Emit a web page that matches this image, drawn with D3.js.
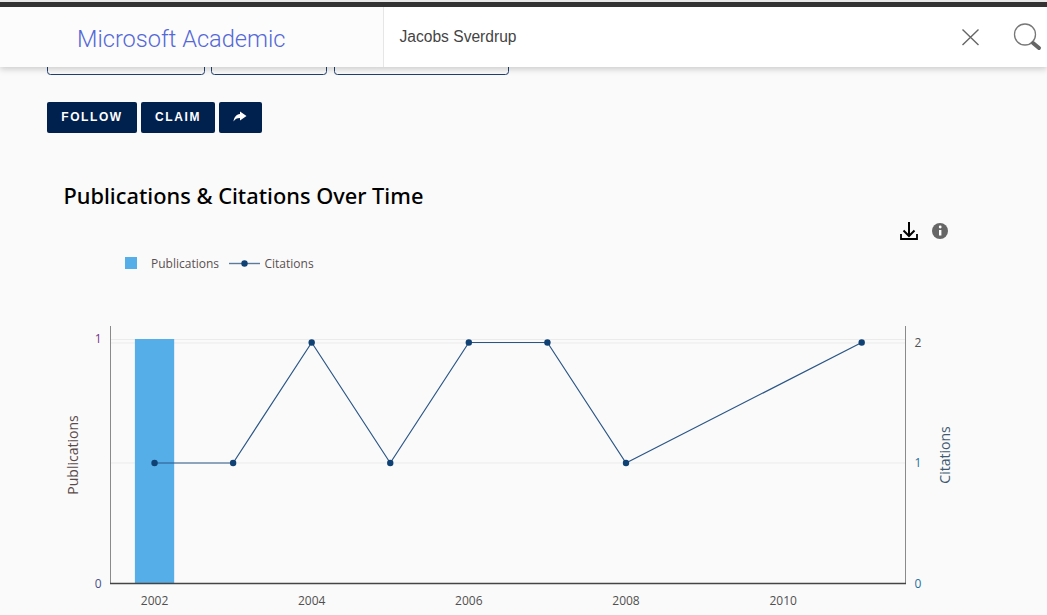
<!DOCTYPE html>
<html>
<head>
<meta charset="utf-8">
<script src="https://cdn.jsdelivr.net/npm/d3@7/dist/d3.min.js"></script>
<style>
html,body{margin:0;padding:0;background:#fafafa;overflow:hidden}
svg{display:block}
text{font-family:"Open Sans",sans-serif}
</style>
</head>
<body>
<div id="chart"></div>
<script>
const years = [2002,2003,2004,2005,2006,2007,2008,2009,2010,2011];
const xTickLabels = [2002,2004,2006,2008,2010];
const pubYears = [2002];
const pubValues = [1];
const citeYears = [2002,2003,2004,2005,2006,2007,2008,2011];
const citeValues = [1,1,2,1,2,2,1,2];
const leftTicks = [0,1];
const rightTicks = [0,1,2];
const tagBoxes = [[47,205],[211,327],[334,509]];
const buttons = [["FOLLOW",47,137],["CLAIM",141,215],["",219,262]];

const W = 1047, H = 615;
const svg = d3.select("#chart").append("svg").attr("width",W).attr("height",H);
const defs = svg.append("defs");
const f = defs.append("filter").attr("id","sh").attr("x","-5%").attr("y","-20%").attr("width","110%").attr("height","150%");
f.append("feDropShadow").attr("dx",0).attr("dy",2).attr("stdDeviation",3).attr("flood-color","#000").attr("flood-opacity",0.2);

svg.append("rect").attr("width",W).attr("height",H).attr("fill","#fafafa");

// tags, mostly hidden below the header
tagBoxes.forEach(b=>svg.append("rect").attr("x",b[0]+.5).attr("y",40.5).attr("width",b[1]-b[0]-1).attr("height",34).attr("rx",3)
  .attr("fill","none").attr("stroke","#1f3f6e").attr("stroke-width",1));

// header
svg.append("rect").attr("x",0).attr("y",7).attr("width",W).attr("height",60).attr("fill","#fff").attr("filter","url(#sh)");
svg.append("rect").attr("x",0).attr("y",7).attr("width",383).attr("height",60).attr("fill","#fcfcfc");
svg.append("rect").attr("x",383).attr("y",7).attr("width",1).attr("height",60).attr("fill","#e6e6e6");
svg.append("rect").attr("x",0).attr("y",0).attr("width",W).attr("height",2).attr("fill","#e8e8e8");
svg.append("rect").attr("x",0).attr("y",2).attr("width",W).attr("height",5).attr("fill","#333");
svg.append("text").attr("x",77).attr("y",47).attr("font-size",23.6).attr("fill","#5468d8").style("font-family","Roboto").attr("font-weight",300).text("Microsoft Academic");
svg.append("text").attr("x",399.5).attr("y",42).attr("font-size",15.6).attr("fill","#444").style("font-family","Liberation Sans").text("Jacobs Sverdrup");
// close icon
svg.append("path").attr("d","M962.5 29.5L978.5 45M978.5 29.5L962.5 45").attr("stroke","#666").attr("stroke-width",1.4).attr("fill","none");
// search icon
svg.append("circle").attr("cx",1025).attr("cy",34.5).attr("r",10.5).attr("fill","none").attr("stroke","#777").attr("stroke-width",1.3);
svg.append("path").attr("d","M1033 43L1039 48").attr("stroke","#666").attr("stroke-width",4).attr("stroke-linecap","round");

// buttons
buttons.forEach(b=>{
  svg.append("rect").attr("x",b[1]).attr("y",102).attr("width",b[2]-b[1]).attr("height",31).attr("rx",2).attr("fill","#00204e");
  if(b[0]) svg.append("text").attr("x",(b[1]+b[2])/2).attr("y",121).attr("text-anchor","middle").attr("font-size",12).attr("font-weight",700)
    .attr("letter-spacing",1.6).style("font-family","Liberation Sans").attr("fill","#fff").text(b[0]);
});
svg.append("path").attr("d","M240 111.5L246.5 116L240 120.5V118C237 118 235 119 233.5 121.5C234 117.5 236 114.5 240 114Z").attr("fill","#fff");

// title
svg.append("text").attr("x",63.5).attr("y",204).attr("font-size",21.8).attr("font-weight",500).attr("fill","#000").style("font-family","Noto Sans").text("Publications & Citations Over Time");

// download and info icons
svg.append("path").attr("d","M909 222V235.5M903.5 230.5L909 236L914.5 230.5").attr("stroke","#000").attr("stroke-width",2).attr("fill","none");
svg.append("path").attr("d","M901 234V239H917V234").attr("stroke","#000").attr("stroke-width",1.8).attr("fill","none");
svg.append("circle").attr("cx",940).attr("cy",231).attr("r",8).attr("fill","#666");
svg.append("rect").attr("x",939).attr("y",230).attr("width",2.4).attr("height",5.5).attr("fill","#fff");
svg.append("circle").attr("cx",940.2).attr("cy",227).attr("r",1.4).attr("fill","#fff");

// scales
const x = d3.scaleBand().domain(years).range([115.25,901]).paddingInner(0.5).paddingOuter(0.25);
const y1 = d3.scaleLinear().domain([0,1]).range([583.5,339]);
const y2 = d3.scaleLinear().domain([0,2]).range([583.5,342.5]);
const xc = d => x(d)+x.bandwidth()/2;

// grid
const grid = svg.append("g").attr("stroke","#ebebeb").attr("stroke-width",1);
leftTicks.filter(d=>d>0).forEach(d=>grid.append("line").attr("x1",110).attr("x2",905).attr("y1",Math.round(y1(d))+.5).attr("y2",Math.round(y1(d))+.5));
rightTicks.filter(d=>d>0).forEach(d=>grid.append("line").attr("x1",110).attr("x2",905).attr("y1",Math.round(y2(d))).attr("y2",Math.round(y2(d))));

// bars
svg.append("g").selectAll("rect").data(pubYears).join("rect")
  .attr("x",d=>x(d)).attr("width",x.bandwidth())
  .attr("y",(d,i)=>y1(pubValues[i])).attr("height",(d,i)=>y1(0)-y1(pubValues[i])).attr("fill","#56aee8");

// axes
function styleAxis(g,color){
  g.select(".domain").remove();
  g.selectAll(".tick line").remove();
  g.selectAll("text").attr("fill",color).attr("font-size",12).style("font-family","Open Sans");
}
svg.append("g").attr("transform","translate(0,583.5)")
  .call(d3.axisBottom(x).tickValues(xTickLabels).tickSize(0).tickPadding(13).tickFormat(d3.format("d")))
  .call(g=>styleAxis(g,"#505050"));
svg.append("g").attr("transform","translate(110.5,0)")
  .call(d3.axisLeft(y1).tickValues(leftTicks).tickSize(0).tickPadding(9).tickFormat(d3.format("d")))
  .call(g=>styleAxis(g,"#7a2f8a"))
  .call(g=>g.selectAll(".tick").filter(d=>d===0).select("text").attr("fill","#4a4f8a"));
svg.append("g").attr("transform","translate(905.5,0)")
  .call(d3.axisRight(y2).tickValues(rightTicks).tickSize(0).tickPadding(9).tickFormat(d3.format("d")))
  .call(g=>styleAxis(g,"#1f6f9e"))
  .call(g=>g.selectAll(".tick").filter(d=>d===2).select("text").attr("fill","#505050"));
svg.append("line").attr("x1",110.5).attr("x2",110.5).attr("y1",326).attr("y2",584).attr("stroke","#8a8a8a");
svg.append("line").attr("x1",905.5).attr("x2",905.5).attr("y1",326).attr("y2",584).attr("stroke","#8a8a8a");
svg.append("line").attr("x1",110).attr("x2",906).attr("y1",583.5).attr("y2",583.5).attr("stroke","#444").attr("stroke-width",1.6);

// line
const pts = citeYears.map((d,i)=>[xc(d),y2(citeValues[i])]);
svg.append("path").attr("d",d3.line()(pts)).attr("fill","none").attr("stroke","#2a5585").attr("stroke-width",1.2);
svg.append("g").selectAll("circle").data(pts).join("circle").attr("cx",d=>d[0]).attr("cy",d=>d[1]).attr("r",3.2).attr("fill","#0f4175");

// axis titles
svg.append("text").attr("transform","translate(77.5,455) rotate(-90)").attr("text-anchor","middle").attr("font-size",14).attr("fill","#5a4a4a").text("Publications");
svg.append("text").attr("transform","translate(949.5,455) rotate(-90)").attr("text-anchor","middle").attr("font-size",14).attr("fill","#3f5a72").text("Citations");

// legend
svg.append("rect").attr("x",125).attr("y",257).attr("width",12).attr("height",12).attr("fill","#56aee8");
svg.append("text").attr("x",151).attr("y",268).attr("font-size",12).attr("fill","#5a5050").text("Publications");
svg.append("line").attr("x1",229).attr("x2",260).attr("y1",263.5).attr("y2",263.5).attr("stroke","#5b7a9e").attr("stroke-width",1.4);
svg.append("circle").attr("cx",244.5).attr("cy",263.5).attr("r",3.2).attr("fill","#0f4175");
svg.append("text").attr("x",264.5).attr("y",268).attr("font-size",12).attr("fill","#5a5050").text("Citations");
</script>
</body>
</html>
